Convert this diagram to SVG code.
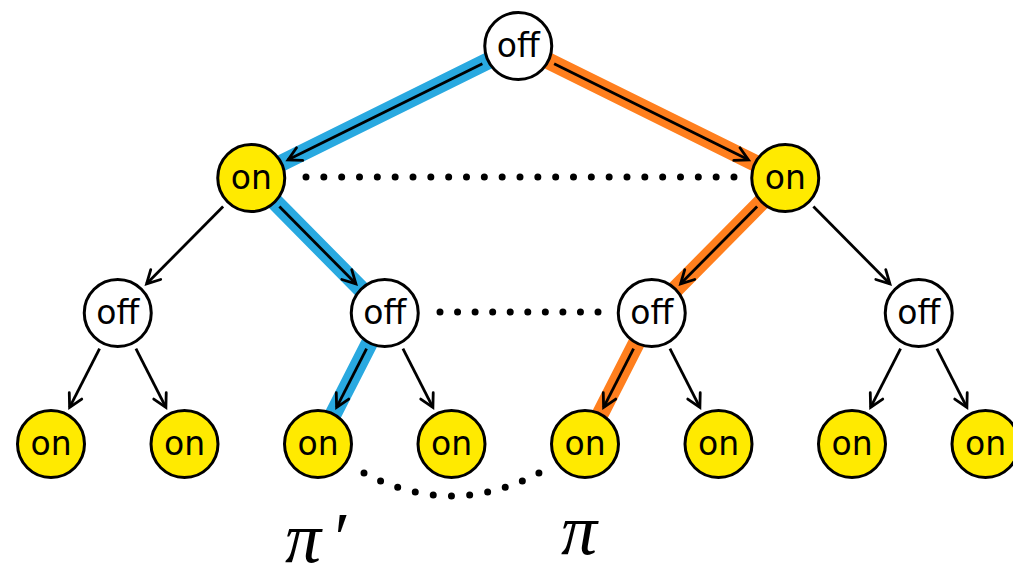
<svg xmlns="http://www.w3.org/2000/svg" width="1013" height="566" viewBox="0 0 1013 566">
  <style>
    .node circle { stroke: #000; stroke-width: 3; }
    .node.off circle { fill: #fff; }
    .node.on circle { fill: #ffea00; }
    .node text { font-family: "DejaVu Sans", "Open Sans", sans-serif; font-size: 33px; text-anchor: middle; fill: #000; }
    .edge { stroke: #000; stroke-width: 2.8; fill: none; marker-end: url(#chev); }
    .band { fill: none; stroke-width: 17; stroke-linejoin: round; }
    .dots { fill: none; stroke: #000; stroke-width: 7; stroke-linecap: round; }
    .pi { font-family: "Liberation Serif", "DejaVu Serif", serif; font-style: italic; font-size: 72px; fill: #000; }
  </style>
  <defs>
    <marker id="chev" markerUnits="userSpaceOnUse" viewBox="-16 -10 20 20" refX="0" refY="0" markerWidth="20" markerHeight="20" orient="auto">
      <path d="M-13,-7 L0,0 L-13,7" fill="none" stroke="#000" stroke-width="2.8" stroke-linecap="round" stroke-linejoin="miter"/>
    </marker>
  </defs>

  <!-- highlighted paths -->
  <g id="paths">
    <polyline class="band" stroke="#29a9e0" points="518.25,46 251.25,178 384.75,313 318,444"/>
    <polyline class="band" stroke="#ff7f1e" points="518.25,46 785.25,178 651.75,313 585,444"/>
  </g>

  <!-- tree edges -->
  <g id="connectors">
    <line class="edge" x1="482.39" y1="63.73" x2="288.0" y2="159.83"/>
    <line class="edge" x1="554.11" y1="63.73" x2="748.5" y2="159.83"/>
    <line class="edge" x1="223.13" y1="206.44" x2="146.58" y2="283.85"/>
    <line class="edge" x1="279.37" y1="206.44" x2="355.92" y2="283.85"/>
    <line class="edge" x1="757.13" y1="206.44" x2="680.58" y2="283.85"/>
    <line class="edge" x1="813.37" y1="206.44" x2="889.92" y2="283.85"/>
    <line class="edge" x1="99.59" y1="348.64" x2="69.61" y2="407.47"/>
    <line class="edge" x1="135.91" y1="348.64" x2="165.89" y2="407.47"/>
    <line class="edge" x1="366.59" y1="348.64" x2="336.61" y2="407.47"/>
    <line class="edge" x1="402.91" y1="348.64" x2="432.89" y2="407.47"/>
    <line class="edge" x1="633.59" y1="348.64" x2="603.61" y2="407.47"/>
    <line class="edge" x1="669.91" y1="348.64" x2="699.89" y2="407.47"/>
    <line class="edge" x1="900.59" y1="348.64" x2="870.61" y2="407.47"/>
    <line class="edge" x1="936.91" y1="348.64" x2="966.89" y2="407.47"/>
  </g>

  <!-- dotted links between matching nodes -->
  <g id="links">
    <path class="dots" stroke-dasharray="0 17.833" d="M306,177 L737,177"/>
    <path class="dots" stroke-dasharray="0 17.556" d="M440,312 L601,312"/>
    <path class="dots" pathLength="10" stroke-dasharray="0 0.9995" d="M364,473 Q451.5,519 539,473"/>
  </g>

  <g id="root" class="node off"><circle cx="518.25" cy="46" r="33.5"/><text x="518.25" y="57">off</text></g>

  <g id="n1a" class="node on"><circle cx="251.25" cy="178" r="33.5"/><text x="251.25" y="189">on</text></g>
  <g id="n1b" class="node on"><circle cx="785.25" cy="178" r="33.5"/><text x="785.25" y="189">on</text></g>

  <g id="n2a" class="node off"><circle cx="117.75" cy="313" r="33.5"/><text x="117.75" y="324">off</text></g>
  <g id="n2b" class="node off"><circle cx="384.75" cy="313" r="33.5"/><text x="384.75" y="324">off</text></g>
  <g id="n2c" class="node off"><circle cx="651.75" cy="313" r="33.5"/><text x="651.75" y="324">off</text></g>
  <g id="n2d" class="node off"><circle cx="918.75" cy="313" r="33.5"/><text x="918.75" y="324">off</text></g>

  <g id="l0" class="node on"><circle cx="51" cy="444" r="33.5"/><text x="51" y="455">on</text></g>
  <g id="l1" class="node on"><circle cx="184.5" cy="444" r="33.5"/><text x="184.5" y="455">on</text></g>
  <g id="l2" class="node on"><circle cx="318" cy="444" r="33.5"/><text x="318" y="455">on</text></g>
  <g id="l3" class="node on"><circle cx="451.5" cy="444" r="33.5"/><text x="451.5" y="455">on</text></g>
  <g id="l4" class="node on"><circle cx="585" cy="444" r="33.5"/><text x="585" y="455">on</text></g>
  <g id="l5" class="node on"><circle cx="718.5" cy="444" r="33.5"/><text x="718.5" y="455">on</text></g>
  <g id="l6" class="node on"><circle cx="852" cy="444" r="33.5"/><text x="852" y="455">on</text></g>
  <g id="l7" class="node on"><circle cx="985.5" cy="444" r="33.5"/><text x="985.5" y="455">on</text></g>

  <!-- policy labels -->
  <text class="pi" x="285" y="562">π<tspan x="330">′</tspan></text>
  <text class="pi" x="561" y="554">π</text>
</svg>
